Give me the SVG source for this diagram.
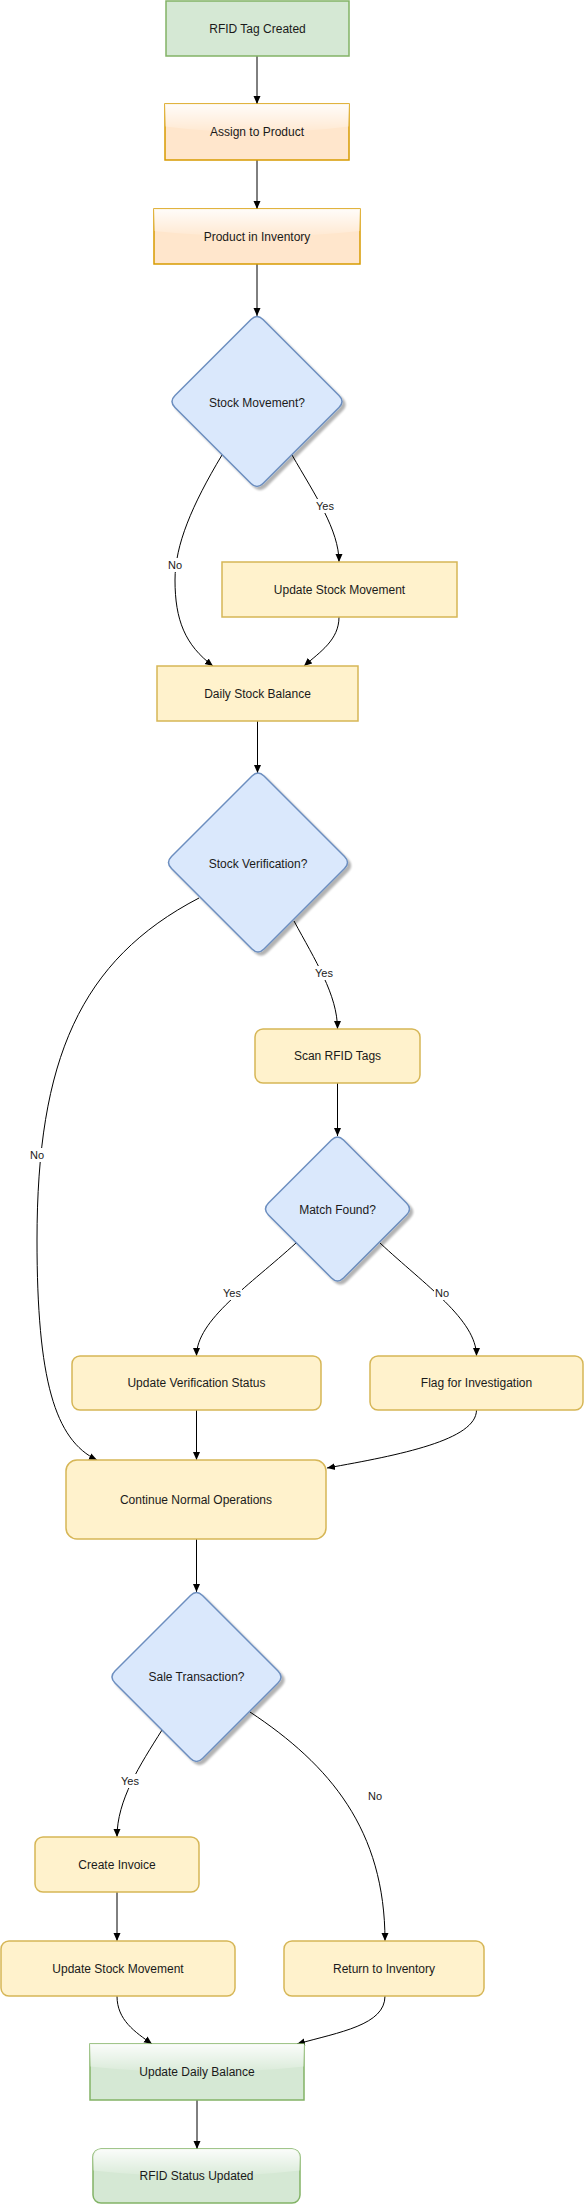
<svg xmlns="http://www.w3.org/2000/svg" width="584" height="2204" viewBox="0 0 584 2204">
<defs>
<style>
.t{font-family:"Liberation Sans",Arial,Helvetica,sans-serif;font-size:12px;fill:#1a1a1a;text-anchor:middle;dominant-baseline:central}
.lbl{font-family:"Liberation Sans",Arial,Helvetica,sans-serif;font-size:11px;fill:#1a1a1a;text-anchor:middle;dominant-baseline:central}
.yel{fill:#fff2cc;stroke:#d6b656;stroke-width:1.5}
.org{fill:#ffe6cc;stroke:#d79b00;stroke-width:1.5}
.grn{fill:#d5e8d4;stroke:#82b366;stroke-width:1.5}
.dia{fill:#dae8fc;stroke:#6c8ebf;stroke-width:1.5;filter:url(#sh)}
.glass{fill:url(#gl);stroke:none}
.e{fill:none;stroke:#000;stroke-width:1;marker-end:url(#arr)}
.lb{fill:#fff}
</style>
<linearGradient id="gl" x1="0" y1="0" x2="0" y2="1">
<stop offset="0" stop-color="#fff" stop-opacity="0.9"/>
<stop offset="1" stop-color="#fff" stop-opacity="0.1"/>
</linearGradient>
<filter id="sh" x="-20%" y="-20%" width="150%" height="150%">
<feGaussianBlur in="SourceAlpha" stdDeviation="1.2"/>
<feOffset dx="2.5" dy="2.5" result="o"/>
<feComponentTransfer><feFuncA type="linear" slope="0.3"/></feComponentTransfer>
<feMerge><feMergeNode/><feMergeNode in="SourceGraphic"/></feMerge>
</filter>
<marker id="arr" markerUnits="userSpaceOnUse" viewBox="0 0 8 8" markerWidth="8" markerHeight="8" refX="8" refY="4" orient="auto">
<path d="M0,0.5 L8,4 L0,7.5 Z" fill="#000"/>
</marker>
</defs>
<rect width="584" height="2204" fill="#fff"/>

<g id="connectors">
<path class="e" d="M257,56 L257,104"/>
<path class="e" d="M257,160 L257,209"/>
<path class="e" d="M257,264 L257,316"/>
<path class="e" d="M222,455 C192,505 175,545 175,580 C175,620 185,645 213,666"/>
<path class="e" d="M292,455 C315,495 339,530 339,562"/>
<path class="e" d="M339,617 C339,640 320,652 304,666"/>
<path class="e" d="M257.5,721 L257.5,773"/>
<path class="e" d="M294,921 C315,960 337.5,995 337.5,1029"/>
<path class="e" d="M199,898 C80,960 37,1060 37,1240 C37,1380 55,1440 97,1460"/>
<path class="e" d="M337.5,1083 L337.5,1136"/>
<path class="e" d="M296,1243 C250,1285 196.5,1320 196.5,1356"/>
<path class="e" d="M380,1243 C425,1285 476.5,1320 476.5,1356"/>
<path class="e" d="M196.5,1410 L196.5,1460"/>
<path class="e" d="M476.5,1410 C476.5,1440 400,1455 327,1468"/>
<path class="e" d="M196.5,1539 L196.5,1592"/>
<path class="e" d="M162,1730 C140,1765 117,1800 117,1837"/>
<path class="e" d="M250,1712 C330,1765 385,1830 385,1941"/>
<path class="e" d="M117,1892 L117,1941"/>
<path class="e" d="M117,1996 C117,2020 135,2032 152,2044"/>
<path class="e" d="M385,1996 C385,2025 340,2032 297,2044"/>
<path class="e" d="M197,2100 L197,2149"/>
<g id="edge-labels">
<rect class="lb" x="315" y="499" width="20" height="14"/><text class="lbl" x="325" y="506">Yes</text>
<rect class="lb" x="167" y="558" width="16" height="14"/><text class="lbl" x="175" y="565">No</text>
<rect class="lb" x="314" y="966" width="20" height="14"/><text class="lbl" x="324" y="973">Yes</text>
<rect class="lb" x="29" y="1148" width="16" height="14"/><text class="lbl" x="37" y="1155">No</text>
<rect class="lb" x="222" y="1286" width="20" height="14"/><text class="lbl" x="232" y="1293">Yes</text>
<rect class="lb" x="434" y="1286" width="16" height="14"/><text class="lbl" x="442" y="1293">No</text>
<rect class="lb" x="120" y="1774" width="20" height="14"/><text class="lbl" x="130" y="1781">Yes</text>
<text class="lbl" x="375" y="1796">No</text>
</g>
</g>

<g id="rfid-tag-created">
<rect class="grn" x="166" y="1" width="183" height="55"/>
<text class="t" x="257.5" y="28.5">RFID Tag Created</text>
</g>
<g id="assign-to-product">
<rect class="org" x="165" y="104" width="184" height="56"/>
<path class="glass" d="M165,104 L349,104 L349,126.4 Q257,138 165,126.4 Z"/>
<text class="t" x="257" y="132">Assign to Product</text>
</g>
<g id="product-in-inventory">
<rect class="org" x="154" y="209" width="206" height="55"/>
<path class="glass" d="M154,209 L360,209 L360,231 Q257,242 154,231 Z"/>
<text class="t" x="257" y="236.5">Product in Inventory</text>
</g>
<g id="stock-movement">
<path class="dia" transform="translate(257,401.5)" d="M-6,-82 Q0,-88 6,-82 L82,-6 Q88,0 82,6 L6,82 Q0,88 -6,82 L-82,6 Q-88,0 -82,-6 Z"/>
<text class="t" x="257" y="403">Stock Movement?</text>
</g>
<g id="update-stock-movement-1">
<rect class="yel" x="222" y="562" width="235" height="55"/>
<text class="t" x="339.5" y="589.5">Update Stock Movement</text>
</g>
<g id="daily-stock-balance">
<rect class="yel" x="157" y="666" width="201" height="55"/>
<text class="t" x="257.5" y="693.5">Daily Stock Balance</text>
</g>
<g id="stock-verification">
<path class="dia" transform="translate(258,862.5)" d="M-6,-86.5 Q0,-92.5 6,-86.5 L86.5,-6 Q92.5,0 86.5,6 L6,86.5 Q0,92.5 -6,86.5 L-86.5,6 Q-92.5,0 -86.5,-6 Z"/>
<text class="t" x="258" y="864">Stock Verification?</text>
</g>
<g id="scan-rfid-tags">
<rect class="yel" x="255" y="1029" width="165" height="54" rx="8"/>
<text class="t" x="337.5" y="1056">Scan RFID Tags</text>
</g>
<g id="match-found">
<path class="dia" transform="translate(337.5,1209)" d="M-6,-69 Q0,-75 6,-69 L69,-6 Q75,0 69,6 L6,69 Q0,75 -6,69 L-69,6 Q-75,0 -69,-6 Z"/>
<text class="t" x="337.5" y="1210">Match Found?</text>
</g>
<g id="update-verification-status">
<rect class="yel" x="72" y="1356" width="249" height="54" rx="8"/>
<text class="t" x="196.5" y="1383">Update Verification Status</text>
</g>
<g id="flag-for-investigation">
<rect class="yel" x="370" y="1356" width="213" height="54" rx="8"/>
<text class="t" x="476.5" y="1383">Flag for Investigation</text>
</g>
<g id="continue-normal-operations">
<rect class="yel" x="66" y="1460" width="260" height="79" rx="11"/>
<text class="t" x="196" y="1500">Continue Normal Operations</text>
</g>
<g id="sale-transaction">
<path class="dia" transform="translate(196.5,1677)" d="M-6,-81.5 Q0,-87.5 6,-81.5 L81.5,-6 Q87.5,0 81.5,6 L6,81.5 Q0,87.5 -6,81.5 L-81.5,6 Q-87.5,0 -81.5,-6 Z"/>
<text class="t" x="196.5" y="1677">Sale Transaction?</text>
</g>
<g id="create-invoice">
<rect class="yel" x="35" y="1837" width="164" height="55" rx="8"/>
<text class="t" x="117" y="1864.5">Create Invoice</text>
</g>
<g id="update-stock-movement-2">
<rect class="yel" x="1" y="1941" width="234" height="55" rx="8"/>
<text class="t" x="118" y="1968.5">Update Stock Movement</text>
</g>
<g id="return-to-inventory">
<rect class="yel" x="284" y="1941" width="200" height="55" rx="8"/>
<text class="t" x="384" y="1968.5">Return to Inventory</text>
</g>
<g id="update-daily-balance">
<rect class="grn" x="90" y="2044" width="214" height="56"/>
<path class="glass" d="M90,2044 L304,2044 L304,2066.4 Q197,2078 90,2066.4 Z"/>
<text class="t" x="197" y="2072">Update Daily Balance</text>
</g>
<g id="rfid-status-updated">
<rect class="grn" x="93" y="2149" width="207" height="54" rx="8"/>
<path class="glass" d="M93,2157 A8,8 0 0 1 101,2149 L292,2149 A8,8 0 0 1 300,2157 L300,2170.6 Q196.5,2182 93,2170.6 Z"/>
<text class="t" x="196.5" y="2176">RFID Status Updated</text>
</g>
</svg>
